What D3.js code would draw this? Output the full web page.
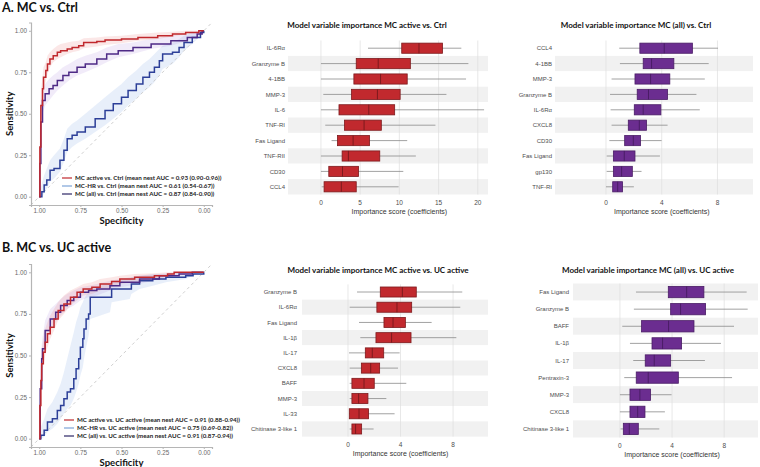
<!DOCTYPE html>
<html>
<head>
<meta charset="utf-8">
<script src="https://cdn.jsdelivr.net/npm/d3@7"></script>
<style>
  body { margin: 0; background: #fff; }
  text { font-family: "Liberation Sans", Arial, sans-serif; }
  .bold { font-family: Lato, "Open Sans", sans-serif; font-weight: 700; }
</style>
</head>
<body>
<script>
// ROC curves: [specificity, sensitivity, band low, band high]
const rocA_active = [
  [1.000,0.00,0.00,0.00],[0.996,0.30,0.20,0.42],[0.990,0.55,0.45,0.64],[0.980,0.65,0.57,0.72],
  [0.974,0.72,0.64,0.78],[0.960,0.76,0.70,0.81],[0.950,0.80,0.74,0.85],[0.935,0.83,0.78,0.87],
  [0.915,0.85,0.81,0.89],[0.890,0.87,0.83,0.91],[0.870,0.88,0.84,0.92],[0.830,0.89,0.86,0.93],
  [0.800,0.90,0.87,0.935],[0.760,0.91,0.88,0.94],[0.730,0.93,0.895,0.955],[0.650,0.935,0.905,0.96],
  [0.600,0.945,0.915,0.965],[0.500,0.95,0.925,0.97],[0.400,0.96,0.94,0.98],[0.280,0.97,0.95,0.99],
  [0.190,0.98,0.965,0.995],[0.110,0.99,0.98,1.0],[0.030,1.00,0.99,1.0],[0.000,1.00,1.00,1.00]
];
const rocA_hr = [
  [1.000,0.00,0.00,0.02],[0.984,0.03,0.00,0.08],[0.970,0.07,0.02,0.13],[0.954,0.10,0.05,0.17],
  [0.934,0.16,0.09,0.22],[0.910,0.17,0.11,0.25],[0.874,0.22,0.15,0.29],[0.850,0.28,0.21,0.35],
  [0.830,0.35,0.27,0.41],[0.800,0.37,0.30,0.44],[0.770,0.39,0.32,0.46],[0.720,0.42,0.35,0.50],
  [0.660,0.47,0.39,0.55],[0.600,0.52,0.43,0.60],[0.550,0.56,0.47,0.64],[0.500,0.60,0.51,0.68],
  [0.460,0.64,0.55,0.72],[0.410,0.68,0.59,0.76],[0.370,0.72,0.63,0.80],[0.330,0.75,0.66,0.83],
  [0.300,0.78,0.69,0.86],[0.270,0.82,0.73,0.89],[0.250,0.86,0.77,0.91],[0.190,0.87,0.80,0.93],
  [0.150,0.90,0.84,0.95],[0.120,0.93,0.88,0.97],[0.070,0.96,0.92,0.99],[0.020,0.99,0.97,1.00],
  [0.000,1.00,1.00,1.00]
];
const rocA_all = [
  [1.000,0.00,0.00,0.00],[0.996,0.20,0.12,0.30],[0.990,0.45,0.36,0.54],[0.980,0.58,0.50,0.65],
  [0.964,0.62,0.55,0.68],[0.940,0.65,0.58,0.71],[0.916,0.67,0.61,0.73],[0.890,0.70,0.64,0.75],
  [0.856,0.73,0.67,0.78],[0.820,0.75,0.70,0.80],[0.770,0.78,0.73,0.83],[0.720,0.80,0.75,0.85],
  [0.650,0.83,0.78,0.87],[0.590,0.86,0.81,0.90],[0.520,0.88,0.84,0.92],[0.430,0.90,0.86,0.93],
  [0.320,0.92,0.89,0.95],[0.200,0.94,0.91,0.97],[0.100,0.96,0.94,0.98],[0.040,0.98,0.96,0.99],
  [0.010,1.00,0.99,1.00],[0.000,1.00,1.00,1.00]
];
const rocB_active = [
  [1.000,0.00,0.00,0.00],[0.996,0.20,0.12,0.30],[0.990,0.35,0.26,0.44],[0.985,0.45,0.36,0.53],
  [0.975,0.52,0.44,0.60],[0.964,0.58,0.50,0.66],[0.950,0.63,0.55,0.70],[0.933,0.67,0.60,0.74],
  [0.910,0.72,0.65,0.78],[0.885,0.77,0.71,0.82],[0.850,0.81,0.75,0.86],[0.810,0.85,0.80,0.89],
  [0.770,0.88,0.83,0.91],[0.733,0.90,0.86,0.93],[0.680,0.91,0.87,0.94],[0.630,0.93,0.89,0.96],
  [0.560,0.945,0.91,0.97],[0.510,0.96,0.93,0.98],[0.420,0.97,0.945,0.99],[0.300,0.98,0.96,0.995],
  [0.220,0.99,0.975,1.0],[0.180,1.00,0.99,1.0],[0.000,1.00,1.00,1.00]
];
const rocB_hr = [
  [1.000,0.00,0.00,0.03],[0.990,0.02,0.00,0.07],[0.970,0.05,0.01,0.12],[0.950,0.10,0.04,0.18],
  [0.920,0.12,0.06,0.22],[0.890,0.17,0.09,0.28],[0.870,0.20,0.12,0.33],[0.850,0.24,0.15,0.40],
  [0.830,0.28,0.18,0.48],[0.810,0.30,0.20,0.56],[0.790,0.36,0.24,0.64],[0.776,0.42,0.28,0.70],
  [0.760,0.48,0.33,0.75],[0.750,0.55,0.38,0.79],[0.735,0.60,0.43,0.82],[0.728,0.66,0.48,0.84],
  [0.715,0.72,0.55,0.86],[0.700,0.75,0.62,0.88],[0.690,0.85,0.72,0.91],[0.570,0.85,0.76,0.93],
  [0.560,0.90,0.82,0.95],[0.450,0.90,0.84,0.96],[0.440,0.93,0.87,0.97],[0.390,0.95,0.90,0.98],
  [0.310,0.96,0.92,0.99],[0.230,0.97,0.94,0.99],[0.110,0.98,0.96,1.00],[0.065,0.99,0.98,1.00],
  [0.000,1.00,1.00,1.00]
];
const rocB_all = [
  [1.000,0.00,0.00,0.00],[0.994,0.30,0.22,0.40],[0.985,0.48,0.40,0.56],[0.980,0.54,0.46,0.61],
  [0.964,0.65,0.57,0.71],[0.933,0.72,0.65,0.78],[0.900,0.76,0.70,0.81],[0.870,0.80,0.74,0.84],
  [0.830,0.83,0.78,0.87],[0.790,0.85,0.80,0.89],[0.750,0.88,0.83,0.91],[0.700,0.89,0.85,0.92],
  [0.650,0.90,0.86,0.93],[0.570,0.92,0.89,0.95],[0.510,0.94,0.91,0.96],[0.390,0.96,0.93,0.98],
  [0.270,0.98,0.96,0.99],[0.150,0.99,0.98,1.00],[0.070,1.00,0.99,1.00],[0.000,1.00,1.00,1.00]
];

const rocTicks = [0, 0.25, 0.5, 0.75, 1];
const legendA = [
  "MC active vs. Ctrl (mean nest AUC = 0.93 (0.90-0.96))",
  "MC-HR vs. Ctrl (mean nest AUC = 0.61 (0.54-0.67))",
  "MC (all) vs. Ctrl (mean nest AUC = 0.87 (0.84-0.90))"
];
const legendB = [
  "MC active vs. UC active (mean nest AUC = 0.91 (0.88-0.94))",
  "MC-HR vs. UC active (mean nest AUC = 0.75 (0.69-0.82))",
  "MC (all) vs. UC active (mean nest AUC = 0.91 (0.87-0.94))"
];

// variable importance: [label, whisker low, q1, median, q3, whisker high]
const impA_active = [
  ["IL-6R\u03b1", 6.0, 10.3, 12.5, 15.5, 17.9],
  ["Granzyme B", 0, 4.5, 7.3, 11.4, 18.8],
  ["4-1BB", 0, 4.2, 7.6, 11.0, 18.5],
  ["MMP-3", 0.3, 3.9, 7.2, 10.1, 16.0],
  ["IL-6", 0, 2.3, 6.1, 9.4, 20.8],
  ["TNF-RI", 0.55, 3.0, 5.5, 7.7, 14.6],
  ["Fas Ligand", 1.35, 2.1, 4.1, 6.2, 11.0],
  ["TNF-RII", 0, 2.7, 3.5, 7.5, 12.1],
  ["CD30", 0, 1.0, 2.75, 4.8, 10.5],
  ["CCL4", 0.1, 0.4, 2.6, 4.5, 9.9]
];
const impA_all = [
  ["CCL4", 0.95, 2.43, 4.18, 6.2, 8.04],
  ["4-1BB", 1.0, 2.67, 3.27, 4.87, 7.37],
  ["MMP-3", 0.4, 2.08, 3.2, 4.58, 7.09],
  ["Granzyme B", 0.29, 2.24, 3.05, 4.42, 6.49],
  ["IL-6R\u03b1", 0.33, 2.03, 2.67, 3.94, 6.73],
  ["CXCL8", 0.4, 1.6, 2.39, 2.91, 4.42],
  ["CD30", 0.24, 1.34, 1.96, 2.48, 3.99],
  ["Fas Ligand", 0.05, 0.53, 1.31, 2.08, 3.87],
  ["gp130", 0.05, 0.53, 1.12, 1.89, 2.55],
  ["TNF-RI", 0, 0.48, 0.84, 1.19, 2.0]
];
const impB_active = [
  ["Granzyme B", 0.69, 2.46, 4.14, 5.2, 8.7],
  ["IL-6R\u03b1", 0.13, 2.2, 3.73, 4.85, 8.55],
  ["Fas Ligand", 0.84, 2.74, 3.43, 4.37, 6.37],
  ["IL-1\u03b2", 0.94, 2.13, 3.32, 4.8, 8.25],
  ["IL-17", 0.08, 1.32, 1.85, 2.72, 3.93],
  ["CXCL8", 0.13, 1.02, 1.73, 2.41, 3.81],
  ["BAFF", 0.13, 0.3, 1.22, 2.0, 4.44],
  ["MMP-3", 0.13, 0.3, 0.81, 1.52, 2.92],
  ["IL-33", 0.08, 0.1, 0.84, 1.57, 3.55],
  ["Chitinase 3-like 1", 0.13, 0.3, 0.58, 1.04, 1.95]
];
const impB_all = [
  ["Fas Ligand", 1.23, 3.71, 5.12, 6.44, 9.72],
  ["Granzyme B", 1.07, 3.89, 4.65, 6.57, 9.8],
  ["BAFF", 0.18, 1.66, 3.73, 5.68, 8.75],
  ["IL-1\u03b2", 0.77, 2.46, 3.27, 4.73, 7.75],
  ["IL-17", 1.02, 1.94, 2.63, 3.89, 6.52],
  ["Pentraxin-3", 0.33, 1.25, 2.17, 4.48, 8.6],
  ["MMP-3", 0, 0.77, 1.53, 2.35, 3.96],
  ["CXCL8", 0, 0.77, 1.36, 1.92, 3.45],
  ["Chitinase 3-like 1", 0.05, 0.26, 0.72, 1.41, 3.02]
];

const RED = "#c0282d", PURPLE = "#4e2a86", BLUE = "#2c3f98";

const svg = d3.select("body").append("svg")
  .attr("width", 760).attr("height", 467)
  .style("display", "block");
svg.append("rect").attr("width", 760).attr("height", 467).attr("fill", "#fff");

// panel letters
svg.append("text").attr("class", "bold").attr("x", 2).attr("y", 12)
  .attr("font-size", 12.5).attr("fill", "#111").text("A.  MC vs. Ctrl");
svg.append("text").attr("class", "bold").attr("x", 2).attr("y", 252)
  .attr("font-size", 12.5).attr("fill", "#111").text("B.  MC vs. UC active");

function drawRoc(o) {
  const g = svg.append("g");
  const x = d3.scaleLinear().domain([1.05, -0.05]).range([o.x0, o.x1]);
  const y = d3.scaleLinear().domain([-0.05, 1.05]).range([o.yBot, o.yTop]);

  const band = d3.area().x(d => x(d[0])).y0(d => y(d[2])).y1(d => y(d[3]));
  const line = d3.line().x(d => x(d[0])).y(d => y(d[1])).curve(d3.curveStepAfter);

  const series = [
    { data: o.hr, col: BLUE, fill: "rgba(120,160,225,0.17)" },
    { data: o.all, col: PURPLE, fill: "rgba(160,120,215,0.15)" },
    { data: o.active, col: RED, fill: "rgba(235,120,120,0.18)" }
  ];
  series.forEach(s => g.append("path").attr("d", band(s.data)).attr("fill", s.fill));

  // chance line
  g.append("line")
    .attr("x1", x(1.05)).attr("y1", y(-0.05)).attr("x2", x(-0.05)).attr("y2", y(1.05))
    .attr("stroke", "#cfcfcf").attr("stroke-width", 1).attr("stroke-dasharray", "3,3");

  series.forEach(s => g.append("path").attr("d", line(s.data))
    .attr("fill", "none").attr("stroke", s.col).attr("stroke-width", 1.5));

  // axes
  const xa = g.append("g").attr("transform", `translate(0,${o.yBot})`)
    .call(d3.axisBottom(x).tickValues(rocTicks).tickFormat(d3.format(".2f")).tickSize(2).tickPadding(2));
  const ya = g.append("g").attr("transform", `translate(${o.x0},0)`)
    .call(d3.axisLeft(y).tickValues(rocTicks).tickFormat(d3.format(".2f")).tickSize(2).tickPadding(2));
  [xa, ya].forEach(a => {
    a.select(".domain").attr("stroke", "#b5b5b5").attr("stroke-width", 1.2);
    a.selectAll(".tick line").attr("stroke", "#b5b5b5");
    a.selectAll(".tick text").attr("fill", "#6a6a6a").attr("font-size", 6.3)
      .style("font-family", "'Liberation Sans', Arial, sans-serif");
  });

  g.append("text").attr("class", "bold").attr("text-anchor", "middle")
    .attr("x", (o.x0 + o.x1) / 2).attr("y", o.yBot + 19).attr("font-size", 9.5)
    .attr("fill", "#111").text("Specificity");
  g.append("text").attr("class", "bold").attr("text-anchor", "middle")
    .attr("transform", `translate(13,${(o.yTop + o.yBot) / 2}) rotate(-90)`)
    .attr("font-size", 9.5).attr("fill", "#111").text("Sensitivity");

  // legend
  const keyCols = [RED, "#7ea4d8", "#2e2766"];
  o.legend.forEach((t, i) => {
    const ly = o.legY + i * o.legDy;
    g.append("line").attr("x1", o.legX).attr("x2", o.legX + 10)
      .attr("y1", ly).attr("y2", ly).attr("stroke", keyCols[i]).attr("stroke-width", 1.2);
    g.append("text").attr("class", "bold").attr("x", o.legX + 13).attr("y", ly + 2)
      .attr("font-size", 6.2).attr("fill", "#222").text(t);
  });
}

drawRoc({ x0: 31, x1: 212, yTop: 22.5, yBot: 205, active: rocA_active, hr: rocA_hr, all: rocA_all,
  legend: legendA, legX: 62, legY: 178, legDy: 8 });
drawRoc({ x0: 31, x1: 212, yTop: 264, yBot: 447, active: rocB_active, hr: rocB_hr, all: rocB_all,
  legend: legendB, legX: 64, legY: 420, legDy: 8 });

function drawImportance(o) {
  const g = svg.append("g");
  const x = d3.scaleLinear().domain(o.domain).range([o.left, o.right]);
  const y = d3.scaleBand().domain(o.data.map(d => d[0])).range([o.top, o.bottom]);
  const n = o.data.length;
  const bh = y.bandwidth() * 0.66;

  // alternating row bands, shaded from the bottom row
  g.selectAll(".row").data(o.data).join("rect")
    .attr("x", o.left).attr("width", o.right - o.left)
    .attr("y", d => y(d[0])).attr("height", y.bandwidth())
    .attr("fill", (d, i) => (n - 1 - i) % 2 === 0 ? "#f1f1f1" : "#fff");

  g.selectAll(".grid").data(o.ticks).join("line")
    .attr("x1", d => x(d)).attr("x2", d => x(d))
    .attr("y1", o.top).attr("y2", o.bottom)
    .attr("stroke", "#dedede").attr("stroke-width", 0.7);

  const rows = g.selectAll(".box").data(o.data).join("g")
    .attr("transform", d => `translate(0,${y(d[0]) + y.bandwidth() / 2})`);
  rows.append("line").attr("x1", d => x(d[1])).attr("x2", d => x(d[5]))
    .attr("stroke", "#8a8a8a").attr("stroke-width", 0.8);
  rows.append("rect").attr("x", d => x(d[2])).attr("width", d => x(d[4]) - x(d[2]))
    .attr("y", -bh / 2).attr("height", bh)
    .attr("fill", o.fill).attr("stroke", o.stroke).attr("stroke-width", 0.8);
  rows.append("line").attr("x1", d => x(d[3])).attr("x2", d => x(d[3]))
    .attr("y1", -bh / 2).attr("y2", bh / 2)
    .attr("stroke", o.stroke).attr("stroke-width", 1);

  rows.append("text").attr("x", o.labelX).attr("y", 0).attr("dy", "0.35em")
    .attr("text-anchor", "end").attr("font-size", 6).attr("fill", "#4d4d4d")
    .text(d => d[0]);

  g.selectAll(".tick").data(o.ticks).join("text")
    .attr("x", d => x(d)).attr("y", o.bottom + 10).attr("text-anchor", "middle")
    .attr("font-size", 6.5).attr("fill", "#4d4d4d").text(d => d);

  g.append("text").attr("x", x(o.ticks[0]) + (x(o.ticks[o.ticks.length - 1]) - x(o.ticks[0])) / 2)
    .attr("y", o.bottom + 19).attr("text-anchor", "middle")
    .attr("font-size", 7).attr("fill", "#333").text("Importance score (coefficients)");

  g.append("text").attr("class", "bold").attr("x", o.titleX).attr("y", o.titleY)
    .attr("text-anchor", "middle").attr("font-size", 8).attr("fill", "#111").text(o.title);
}

const RED_BOX = { fill: "#c1292e", stroke: "#7d1a1d" };
const PUR_BOX = { fill: "#6b2d90", stroke: "#4a1d66" };

drawImportance({ data: impA_active, ...RED_BOX, left: 288, right: 488, top: 40.5, bottom: 194.5,
  domain: [-4.2, 21.3], ticks: [0, 5, 10, 15, 20], labelX: 285, titleX: 367, titleY: 28,
  title: "Model variable importance MC active vs. Ctrl" });
drawImportance({ data: impA_all, ...PUR_BOX, left: 555, right: 753, top: 40.5, bottom: 194.5,
  domain: [-3.66, 10.55], ticks: [0, 4, 8], labelX: 552, titleX: 636, titleY: 28,
  title: "Model variable importance MC (all) vs. Ctrl" });
drawImportance({ data: impB_active, ...RED_BOX, left: 302, right: 488, top: 284.4, bottom: 436.6,
  domain: [-3.5, 10.66], ticks: [0, 4, 8], labelX: 297, titleX: 378, titleY: 273,
  title: "Model variable importance MC active vs. UC active" });
drawImportance({ data: impB_all, ...PUR_BOX, left: 573, right: 758, top: 283.5, bottom: 437.5,
  domain: [-3.6, 10.59], ticks: [0, 4, 8], labelX: 569, titleX: 648, titleY: 273,
  title: "Model variable importance MC (all) vs. UC active" });
</script>
</body>
</html>
